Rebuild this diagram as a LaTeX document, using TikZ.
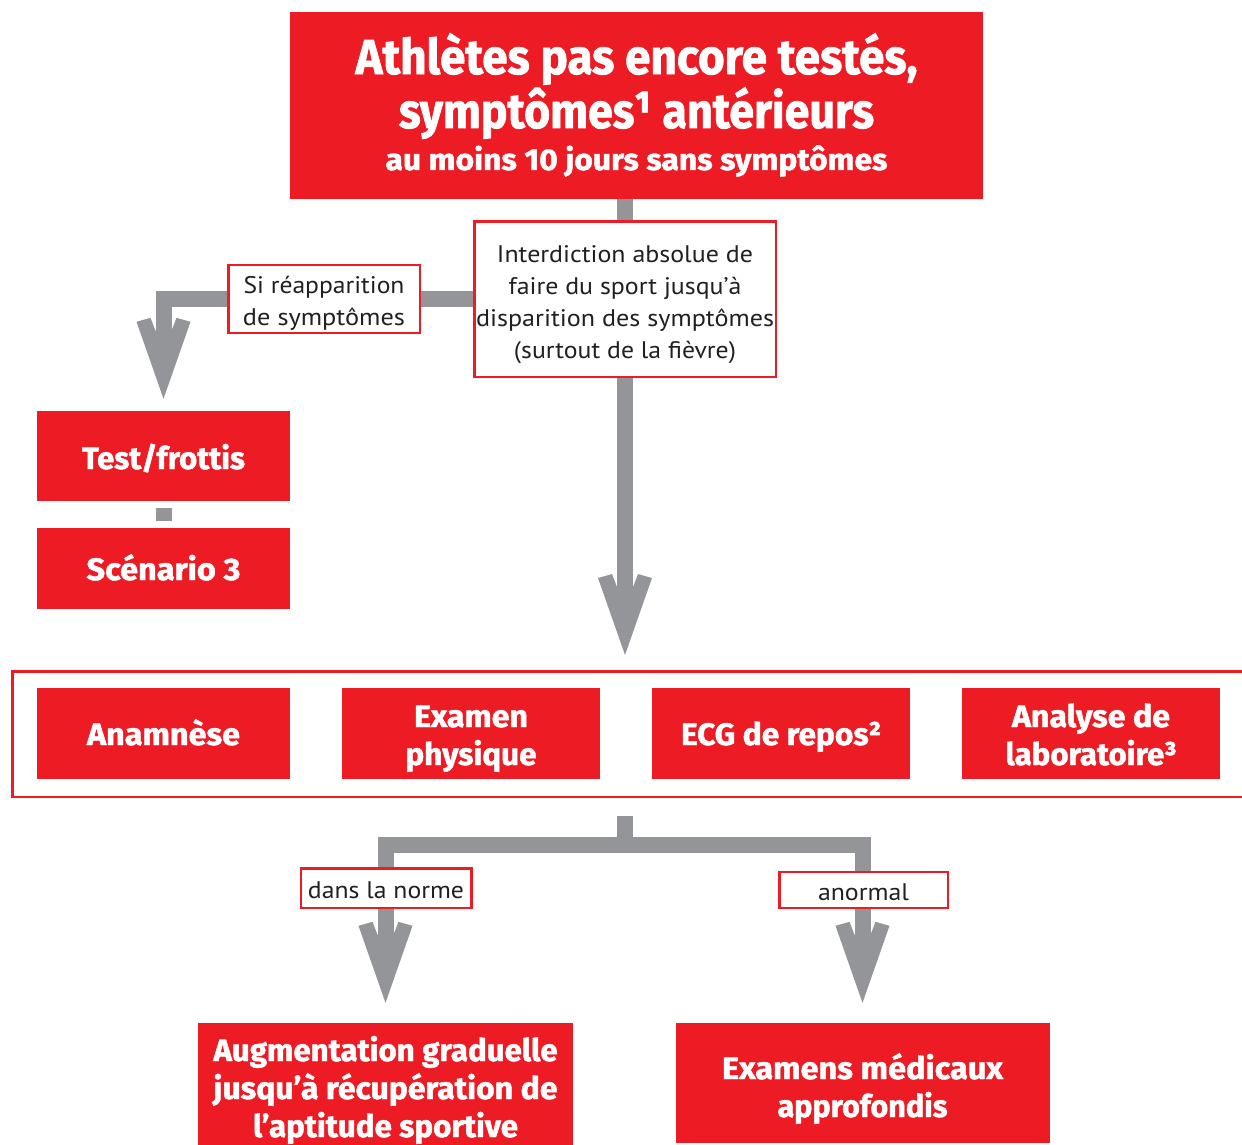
\documentclass[tikz,border=0pt]{standalone}
\usepackage{fontspec}
\usepackage{graphicx}
\setmainfont{PT Sans}
\newfontfamily\heavy[FakeBold=1.5]{Fira Sans Bold}
\definecolor{cred}{HTML}{ED1C24}
\definecolor{cgray}{HTML}{939598}
\definecolor{ctext}{HTML}{231F20}
\newcommand\hw[2]{\resizebox{#1pt}{\height}{#2}}
\pgfdeclarearrow{
  name = Notch,
  setup code = {
    \pgfarrowssettipend{0pt}
    \pgfarrowssetlineend{-60pt}
    \pgfarrowssetvisualbackend{-68pt}
    \pgfarrowssetbackend{-81pt}
    \pgfarrowshullpoint{0pt}{0pt}
    \pgfarrowsupperhullpoint{-81pt}{27pt}
  },
  drawing code = {
    \pgfpathmoveto{\pgfqpoint{0pt}{0pt}}
    \pgfpathlineto{\pgfqpoint{-77pt}{27pt}}
    \pgfpathlineto{\pgfqpoint{-81pt}{13pt}}
    \pgfpathlineto{\pgfqpoint{-68pt}{8pt}}
    \pgfpathlineto{\pgfqpoint{-68pt}{-8pt}}
    \pgfpathlineto{\pgfqpoint{-81pt}{-13pt}}
    \pgfpathlineto{\pgfqpoint{-77pt}{-27pt}}
    \pgfpathclose
    \pgfusepathqfill
  },
}
\tikzset{
  redbox/.style={fill=cred, text=white, inner sep=0pt, align=center,
    font=\heavy\fontsize{31}{38}\selectfont, text depth=8pt},
  outline/.style={draw=cred, line width=2.5pt, fill=white, inner sep=0pt, align=center,
    font=\fontsize{24}{32}\selectfont, text=ctext, text depth=8pt},
  flow/.style={color=cgray, line width=16pt},
}
\begin{document}
\begin{tikzpicture}[x=1pt,y=-1pt]
\useasboundingbox (0,0) rectangle (1242,1145);
% main boxes
\node[redbox, minimum width=693pt, minimum height=187pt, text height=137pt,
  font=\heavy\fontsize{49}{54}\selectfont] (top) at (636.5,105.5)
  {\hw{562}{Athlètes pas encore testés,}\\\hw{475}{symptômes¹ antérieurs}\\[-12pt]
   {\fontsize{30}{36}\selectfont\hw{502}{au moins 10 jours sans symptômes}}};
\node[outline, minimum width=301.5pt, minimum height=155.5pt, text height=126pt] (inter) at (625,299)
  {\hw{256}{Interdiction absolue de}\\\hw{233}{faire du sport jusqu’à}\\
   \hw{298}{disparition des symptômes}\\\hw{222}{(surtout de la fièvre)}};
\node[redbox, minimum width=253pt, minimum height=90pt, text height=34pt] (test) at (163.5,456)
  {\hw{163}{Test/frottis}};
\node[redbox, minimum width=253pt, minimum height=81pt, text height=31pt] (scen) at (163.5,568.5)
  {\hw{154}{Scénario 3}};
\node[draw=cred, line width=2.5pt, minimum width=1248.5pt, minimum height=125.5pt, inner sep=0pt] (band) at (636.5,734) {};
\node[redbox, minimum width=253pt, minimum height=91pt, text height=31pt] (anam) at (163.5,733.5)
  {\hw{153}{Anamnèse}};
\node[redbox, minimum width=258pt, minimum height=91pt, text height=71pt] (exam) at (471,733.5)
  {\hw{114}{Examen}\\\hw{131}{physique}};
\node[redbox, minimum width=258pt, minimum height=91pt, text height=31pt] (ecg) at (781,733.5)
  {\hw{200}{ECG de repos²}};
\node[redbox, minimum width=258pt, minimum height=91pt, text height=71pt] (ana) at (1091,733.5)
  {\hw{158}{Analyse de}\\\hw{171}{laboratoire³}};
\node[redbox, minimum width=375pt, minimum height=122pt, text height=114pt] (aug) at (385.5,1084)
  {\hw{344}{Augmentation graduelle}\\\hw{344}{jusqu’à récupération de}\\\hw{265}{l’aptitude sportive}};
\node[redbox, minimum width=374pt, minimum height=120pt, text height=76pt] (exa) at (862.5,1083)
  {\hw{281}{Examens médicaux}\\\hw{170}{approfondis}};
\coordinate (split) at (625,845);
% connectors
\draw[flow] (top.south -| inter.north) -- (inter.north);
\draw[flow, -Notch, shorten >=15pt] (inter.south) -- (inter.south |- band.north);
\draw[flow, -Notch, shorten >=12pt] (inter.west) -| (test.north);
\draw[flow, shorten <=7pt, shorten >=7pt] (test.south) -- (scen.north);
\draw[flow, shorten <=18pt] (band.south -| inter.south) -- (split);
\draw[flow, -Notch, shorten >=20pt] (split) -| (aug.north);
\draw[flow, -Notch, shorten >=20pt] (split) -| (exa.north);
% labels on connectors
\node[outline, minimum width=191.5pt, minimum height=67.5pt, text height=60pt] (si) at (324,299)
  {\hw{161}{Si réapparition}\\\hw{162}{de symptômes}};
\node[outline, minimum width=170.5pt, minimum height=39.5pt, text height=28pt] (norm) at (386,888)
  {\hw{156}{dans la norme}};
\node[outline, minimum width=168.5pt, minimum height=35.5pt, text height=28pt] (anor) at (863.5,890)
  {\hw{91}{anormal}};
\end{tikzpicture}
\end{document}
